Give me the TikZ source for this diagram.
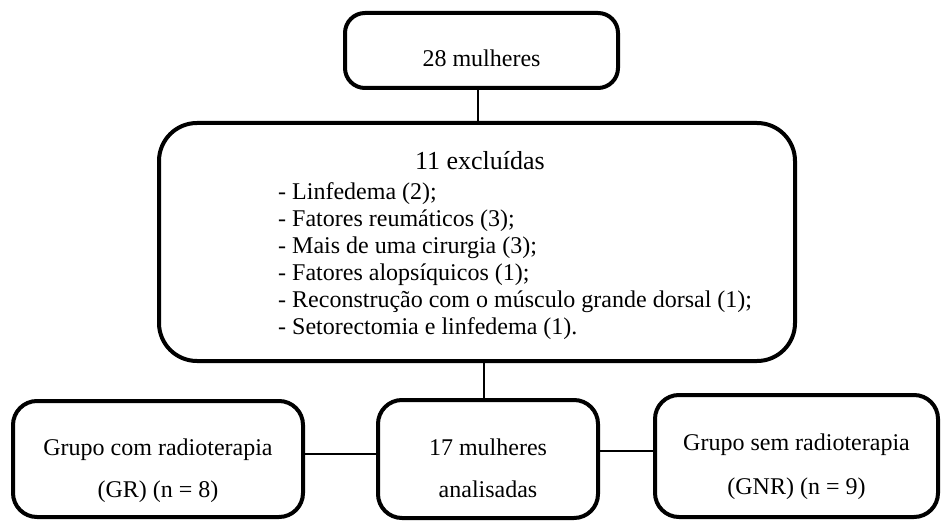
\documentclass[tikz,border=0pt]{standalone}
\usepackage{fontspec}
\setmainfont{Liberation Serif}
\begin{document}
\begin{tikzpicture}[x=1pt,y=-1pt,
  box/.style={draw=black,line width=4pt,rounded corners=#1,inner sep=0pt},
  box/.default=24pt,
  link/.style={draw=black,line width=2pt},
  txt/.style={inner sep=0pt,anchor=base,font=\fontsize{24}{28}\selectfont},
  item/.style={inner sep=0pt,anchor=base west,font=\fontsize{24}{28}\selectfont}]
\useasboundingbox (0,0) rectangle (941,521);
% boxes
\node[box=20pt,minimum width=273pt,minimum height=75pt] (top) at (481.5,50.5) {};
\node[box=38pt,minimum width=636pt,minimum height=238pt] (mid) at (477,242) {};
\node[box,minimum width=290pt,minimum height=116pt] (left) at (158,459) {};
\node[box,minimum width=220pt,minimum height=118pt] (ctr) at (488,459) {};
\node[box,minimum width=283pt,minimum height=122pt] (right) at (796.5,456) {};
% texts
\node[txt] (t1) at (481.5,67) {28 mulheres};
\node[txt,font=\fontsize{26}{30}\selectfont] (t2) at (480,170) {11 excluídas};
\node[item] (i1) at (278,200) {- Linfedema (2);};
\node[item] (i2) at (278,226.8) {- Fatores reumáticos (3);};
\node[item] (i3) at (278,253.6) {- Mais de uma cirurgia (3);};
\node[item] (i4) at (278,280.4) {- Fatores alopsíquicos (1);};
\node[item] (i5) at (278,307.2) {- Reconstrução com o músculo grande dorsal (1);};
\node[item] (i6) at (278,334) {- Setorectomia e linfedema (1).};
\node[txt] (l1) at (158,455) {Grupo com radioterapia};
\node[txt] (l2) at (158,497) {(GR) (n = 8)};
\node[txt] (c1) at (488,455) {17 mulheres};
\node[txt] (c2) at (488,497) {analisadas};
\node[txt] (r1) at (796.5,450) {Grupo sem radioterapia};
\node[txt] (r2) at (796.5,494) {(GNR) (n = 9)};
% connectors
\draw[link] ([xshift=1pt]mid.north |- top.south) -- ([xshift=1pt]mid.north);
\draw[link] ([xshift=7pt]mid.south) -- ([xshift=7pt]mid.south |- ctr.north);
\draw[link] ([yshift=5pt]left.east) -- ([yshift=5pt]left.east -| ctr.west);
\draw[link] ([yshift=8pt]ctr.east) -- ([yshift=8pt]ctr.east -| right.west);
\end{tikzpicture}
\end{document}
